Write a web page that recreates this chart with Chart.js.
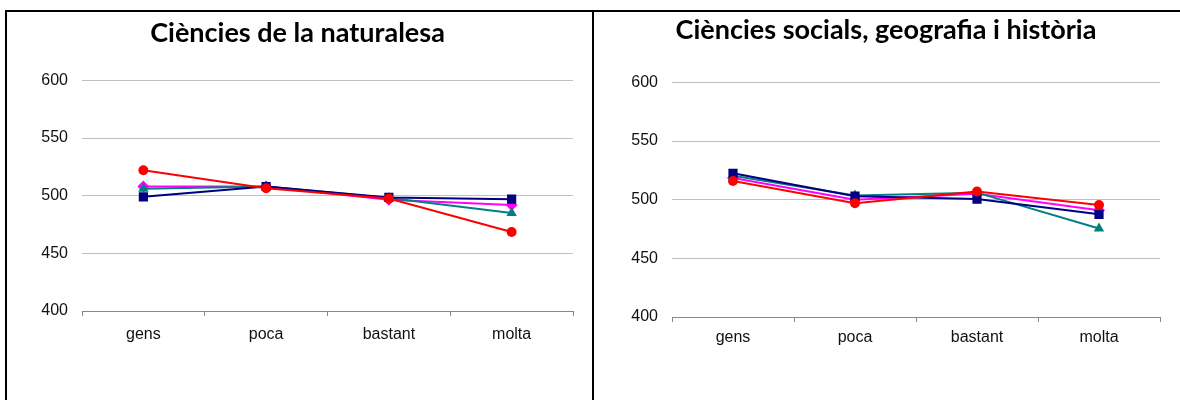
<!DOCTYPE html>
<html>
<head>
<meta charset="utf-8">
<script src="https://cdn.jsdelivr.net/npm/chart.js@4"></script>
<style>
  body { margin: 0; background: #fff; width: 1180px; height: 400px; overflow: hidden; position: relative; }
  .panel { position: absolute; top: 10px; height: 400px; border-top: 2px solid #000; }
  #p1 { left: 5px; width: 585px; border-left: 2px solid #000; border-right: 2px solid #000; }
  #p2 { left: 594px; width: 586px; }
  canvas { display: block; }
</style>
</head>
<body>
<div class="panel" id="p1"><canvas id="graficoNat" width="585" height="388"></canvas></div>
<div class="panel" id="p2"><canvas id="graficoSoc" width="586" height="388"></canvas></div>
<script>
// categories (valoració) i puntuacions llegides del gràfic
const categories = ["gens", "poca", "bastant", "molta"];
const yTicks = [400, 450, 500, 550, 600];

const natNavy    = [499, 508, 498.5, 497];
const natMagenta = [508, 508, 496.5, 492];
const natTeal    = [506, 508, 498, 485];
const natRed     = [522, 506.5, 497.5, 468.5];

const socNavy    = [522.5, 503, 500.5, 487.5];
const socMagenta = [518.5, 500, 505, 491];
const socTeal    = [520.5, 503.5, 506, 475.5];
const socRed     = [516, 497, 507, 495.5];

// mida del marcador segons la forma
const radis = { rect: 6.5, rectRot: 6, triangle: 6, circle: 5 };

function series(data, color, shape, order) {
    return {
        data: data,
        borderColor: color,
        backgroundColor: color,
        borderWidth: 2,
        pointStyle: shape,
        pointRadius: radis[shape],
        pointBorderWidth: 0,
        tension: 0,
        order: order
    };
}

function crearGrafic(id, titol, sets, pad, titlePad, xPad) {
    return new Chart(document.getElementById(id), {
        type: "line",
        data: { labels: categories, datasets: sets },
        options: {
            responsive: false,
            animation: false,
            devicePixelRatio: 1,
            layout: { padding: pad },
            plugins: {
                legend: { display: false },
                tooltip: { enabled: false },
                title: {
                    display: true,
                    text: titol,
                    color: "#000",
                    font: { family: "Lato", size: 27, weight: "bold" },
                    padding: titlePad
                }
            },
            scales: {
                x: {
                    offset: true,
                    afterFit: s => { s.height = 45; },
                    border: { display: true, color: "#888", width: 1 },
                    grid: { display: true, drawOnChartArea: false, drawTicks: true, tickLength: 5, color: "#888", offset: true },
                    ticks: { color: "#111", padding: xPad, font: { family: "Liberation Sans", size: 16 } }
                },
                y: {
                    min: 400,
                    max: 600,
                    afterFit: s => { s.width = 60; },
                    afterBuildTicks: s => { s.ticks = yTicks.map(v => ({ value: v })); },
                    border: { display: false },
                    grid: { color: "#c0c0c0", drawTicks: false },
                    ticks: { color: "#111", padding: 14, font: { family: "Liberation Sans", size: 16 } }
                }
            }
        }
    });
}

crearGrafic("graficoNat", "Ciències de la naturalesa", [
    series(natNavy, "#000080", "rect", 2),
    series(natMagenta, "#ff00ff", "rectRot", 4),
    series(natTeal, "#008080", "triangle", 3),
    series(natRed, "#ff0000", "circle", 1)
], { left: 15, right: 19, top: 0, bottom: 44 }, { top: 5, bottom: 31 }, 9);

crearGrafic("graficoSoc", "Ciències socials, geografia i història", [
    series(socNavy, "#000080", "rect", 2),
    series(socMagenta, "#ff00ff", "rectRot", 4),
    series(socTeal, "#008080", "triangle", 3),
    series(socRed, "#ff0000", "circle", 1)
], { left: 18, right: 20, top: 0, bottom: 38 }, { top: 2, bottom: 36 }, 6);
</script>
</body>
</html>
